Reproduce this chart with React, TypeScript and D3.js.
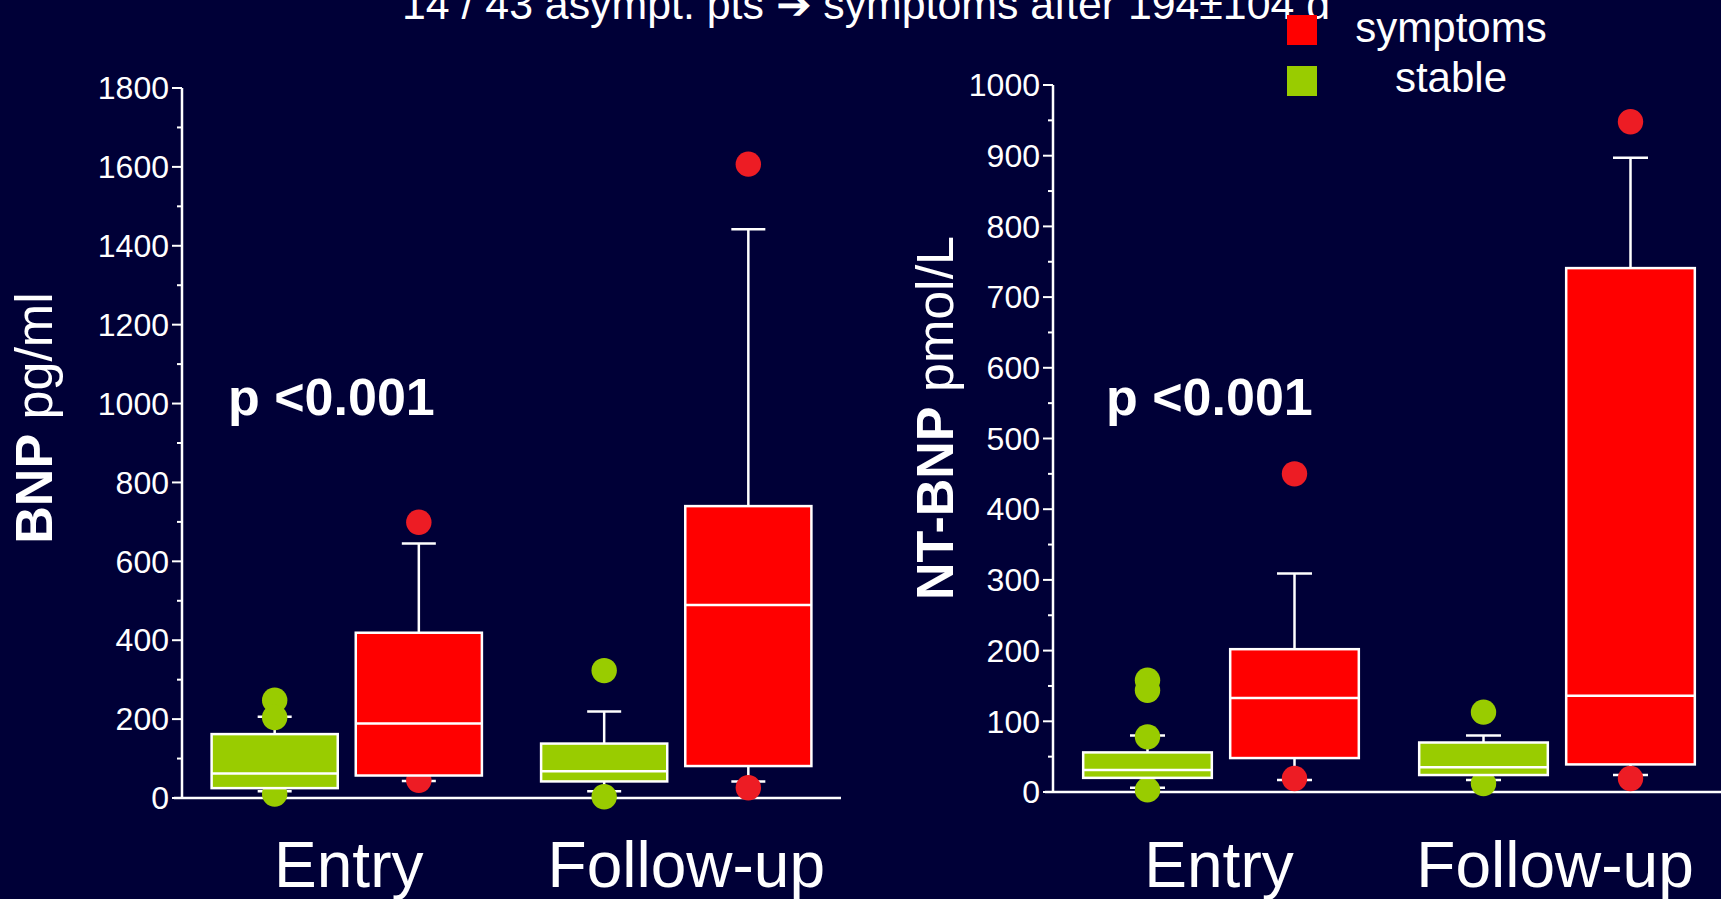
import React from 'react';
import { scaleBand, scaleLinear, range } from 'd3';

const categories = ['Entry', 'Follow-up'];
const groups = ['stable', 'symptoms'];

// [low whisker, q1, median, q3, high whisker] for Entry, Follow-up
const bnpStable = [[17, 25, 62, 162, 206], [17, 42, 68, 138, 219]];
const bnpSymptoms = [[43, 57, 189, 419, 645], [42, 81, 489, 740, 1442]];
const bnpStableOutliers = [[248, 204, 10], [323, 3]];
const bnpSymptomsOutliers = [[699, 45], [1607, 26]];

const ntStable = [[6, 20, 31, 56, 80], [17, 24, 35, 70, 80]];
const ntSymptoms = [[17, 48, 133, 202, 309], [24, 39, 136, 741, 897]];
const ntStableOutliers = [[158, 144, 78, 3], [113, 12]];
const ntSymptomsOutliers = [[450, 19], [948, 19]];

const bnpTicks = range(0, 1801, 200);
const ntTicks = range(0, 1001, 100);

const legendLabels = ['symptoms', 'stable'];

const BG = '#000037';
const GREEN = '#99cc00';
const RED = '#ff0000';
const RED_DOT = '#ed1c24';
const FONT = '"Liberation Sans", Arial, Helvetica, sans-serif';

const BoxChart = ({ axisX, yTop, yBottom, xEnd, yMax, ticks, stable, symptoms, stableOut, symptomsOut, titleBold, titleRest, titleX, pX, capW, labelShift }) => {
  const yScale = scaleLinear().domain([0, yMax]).range([yBottom, yTop]);
  const xScale = scaleBand().domain(categories).range([axisX, xEnd]).padding(0);
  const half = xScale.bandwidth() * 0.4375;
  const inner = scaleBand().domain(groups).range([-half, half])
    .paddingInner(0.125).paddingOuter(0.0625);
  const minor = ticks.slice(0, -1).map((t, i) => (t + ticks[i + 1]) / 2);
  const center = (c, g) => xScale(c) + xScale.bandwidth() / 2 + inner(g) + inner.bandwidth() / 2;

  const series = [
    { key: 'stable', boxes: stable, outs: stableOut, fill: GREEN, dot: GREEN },
    { key: 'symptoms', boxes: symptoms, outs: symptomsOut, fill: RED, dot: RED_DOT },
  ];

  return (
    <g>
      {/* axes */}
      <line x1={axisX} x2={axisX} y1={yScale(yMax)} y2={yBottom} stroke="white" strokeWidth={2.5} />
      <line x1={axisX - 8} x2={xEnd} y1={yBottom} y2={yBottom} stroke="white" strokeWidth={2.5} />
      {ticks.map(t => (
        <g key={t} transform={`translate(${axisX},${yScale(t)})`}>
          <line x1={-10} x2={0} stroke="white" strokeWidth={2} />
          <text x={-13} dy=".35em" textAnchor="end" fill="white" fontSize={32} fontFamily={FONT}>{t}</text>
        </g>
      ))}
      {minor.map(t => (
        <line key={t} x1={axisX - 5} x2={axisX} y1={yScale(t)} y2={yScale(t)} stroke="white" strokeWidth={2} />
      ))}

      {/* whiskers */}
      {series.map(s => categories.map((c, ci) => {
        const cx = center(c, s.key);
        const [lo, q1, , q3, hi] = s.boxes[ci];
        return (
          <g key={s.key + c + 'w'} stroke="white" strokeWidth={2.5}>
            <line x1={cx} x2={cx} y1={yScale(hi)} y2={yScale(q3)} />
            <line x1={cx} x2={cx} y1={yScale(q1)} y2={yScale(lo)} />
            <line x1={cx - capW / 2} x2={cx + capW / 2} y1={yScale(hi)} y2={yScale(hi)} />
            <line x1={cx - capW / 2} x2={cx + capW / 2} y1={yScale(lo)} y2={yScale(lo)} />
          </g>
        );
      }))}

      {/* outliers */}
      {series.map(s => categories.map((c, ci) => s.outs[ci].map((v, vi) => (
        <circle key={s.key + c + vi} cx={center(c, s.key)} cy={yScale(v)} r={12.7} fill={s.dot} />
      ))))}

      {/* boxes */}
      {series.map(s => categories.map((c, ci) => {
        const x0 = xScale(c) + xScale.bandwidth() / 2 + inner(s.key);
        const [, q1, med, q3] = s.boxes[ci];
        return (
          <g key={s.key + c + 'b'}>
            <rect x={x0} y={yScale(q3)} width={inner.bandwidth()} height={yScale(q1) - yScale(q3)}
              fill={s.fill} stroke="white" strokeWidth={2.5} />
            <line x1={x0} x2={x0 + inner.bandwidth()} y1={yScale(med)} y2={yScale(med)} stroke="white" strokeWidth={2.5} />
          </g>
        );
      }))}

      {/* category labels */}
      {categories.map((c, ci) => (
        <text key={c} x={xScale(c) + xScale.bandwidth() / 2 + labelShift[ci]} y={887} textAnchor="middle" fill="white"
          fontSize={64} fontFamily={FONT}>{c}</text>
      ))}

      {/* y title */}
      <text transform={`translate(${titleX},418) rotate(-90)`} textAnchor="middle" fill="white" fontSize={52} fontFamily={FONT}>
        <tspan fontWeight="bold">{titleBold}</tspan>
        <tspan>{titleRest}</tspan>
      </text>

      <text x={pX} y={415} fill="white" fontSize={52} fontWeight="bold" fontFamily={FONT}>p {'<'}0.001</text>
    </g>
  );
};

export default function App() {
  const width = 1721;
  const height = 899;
  return (
    <svg width={width} height={height} style={{ position: 'fixed', left: 0, top: 0, background: BG }}>
      <rect width={width} height={height} fill={BG} />
      <text x={402} y={19} fill="white" fontSize={42} fontFamily={FONT} textLength={928} lengthAdjust="spacingAndGlyphs">
        14 / 43 asympt. pts ➔ symptoms after 194±104 d
      </text>

      {/* legend */}
      <rect x={1287} y={15} width={30} height={30} fill={RED} />
      <rect x={1287} y={66} width={30} height={30} fill={GREEN} />
      {legendLabels.map((l, i) => (
        <text key={l} x={1451} y={42 + i * 50} textAnchor="middle" fill="white" fontSize={42} fontFamily={FONT}>{l}</text>
      ))}

      <BoxChart axisX={182} yTop={88} yBottom={798} xEnd={841} yMax={1800} ticks={bnpTicks}
        stable={bnpStable} symptoms={bnpSymptoms} stableOut={bnpStableOutliers} symptomsOut={bnpSymptomsOutliers}
        titleBold="BNP" titleRest=" pg/ml" titleX={52} pX={228} capW={34} labelShift={[2, 10]} />
      <BoxChart axisX={1053} yTop={85} yBottom={792} xEnd={1725} yMax={1000} ticks={ntTicks}
        stable={ntStable} symptoms={ntSymptoms} stableOut={ntStableOutliers} symptomsOut={ntSymptomsOutliers}
        titleBold="NT-BNP" titleRest=" pmol/L" titleX={953} pX={1106} capW={35} labelShift={[-2, -2]} />
    </svg>
  );
}
